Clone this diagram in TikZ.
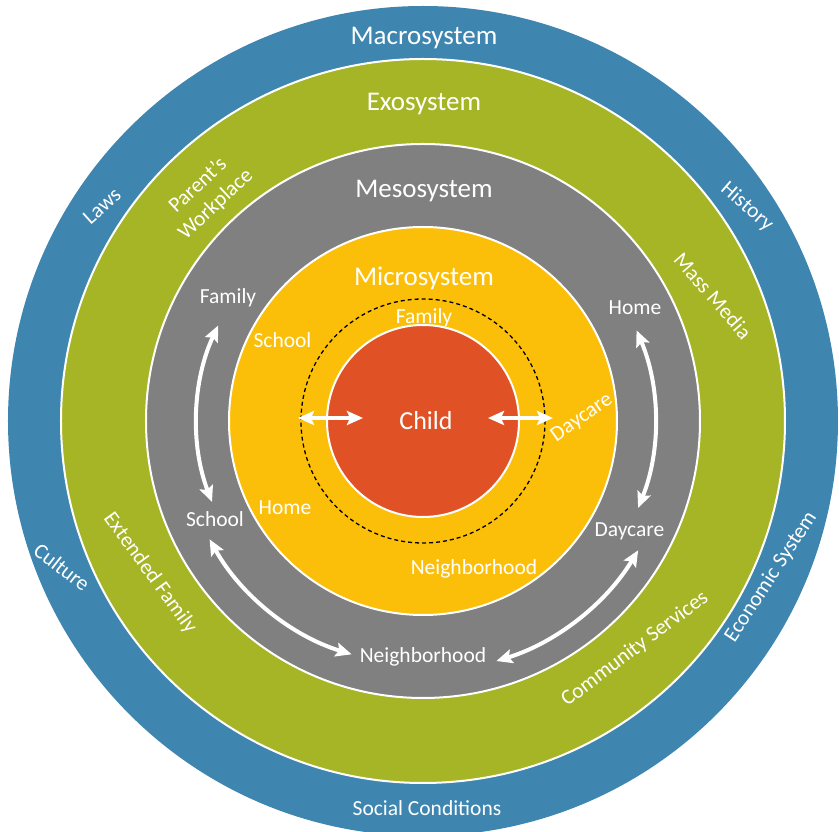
\documentclass[tikz,border=0pt]{standalone}
\usepackage{fontspec}
\setmainfont{Carlito}
\usetikzlibrary{arrows.meta}
\definecolor{macroblue}{RGB}{62,134,176}
\definecolor{exogreen}{RGB}{165,181,38}
\definecolor{mesogray}{RGB}{128,128,128}
\definecolor{microyellow}{RGB}{252,191,9}
\definecolor{childred}{RGB}{224,82,38}
\begin{document}
\begin{tikzpicture}[x=1pt,y=1pt,
  ring/.style={draw=white, line width=2pt},
  syslabel/.style={text=white, font=\fontsize{27}{30}\selectfont, inner sep=0pt},
  lab/.style={text=white, font=\fontsize{21.5}{26}\selectfont, inner sep=0pt, align=center},
  dblarrow/.style={draw=white, line width=4pt,
    {Stealth[length=16pt,width=14pt,inset=3pt]}-{Stealth[length=16pt,width=14pt,inset=3pt]}}
]
\useasboundingbox (-423,-411) rectangle (416,421);
\coordinate (ctr) at (0,0);
% rings
\path[fill=macroblue] (ctr) circle[radius=415];
\path[ring, fill=exogreen] (ctr) circle[radius=362];
\path[ring, fill=mesogray] (ctr) circle[radius=277];
\path[ring, fill=microyellow] (ctr) circle[radius=194];
\draw[black, line width=1.3pt, dash pattern=on 4pt off 3pt] (ctr) circle[radius=122];
\path[ring, fill=childred] (ctr) circle[radius=96];

% system labels
\node[syslabel] (macro) at (1,382.5) {Macrosystem};
\node[syslabel] (exo) at (1,317) {Exosystem};
\node[syslabel] (meso) at (1,229.5) {Mesosystem};
\node[syslabel] (micro) at (1,142.5) {Microsystem};
\node[syslabel, font=\fontsize{26}{30}\selectfont] (child) at (3,0) {Child};

% macrosystem ring
\node[lab, rotate=42] (laws) at (-321,215) {Laws};
\node[lab, rotate=-41] (history) at (324,214) {History};
\node[lab, rotate=-38] (culture) at (-361,-146) {Culture};
\node[lab, rotate=57] (econ) at (348,-156) {Economic System};
\node[lab] (social) at (4,-387) {Social Conditions};

% exosystem ring
\node[lab, rotate=43] (parent) at (-216,226) {Parent’s\\Workplace};
\node[lab, rotate=-49] (media) at (290,125) {Mass Media};
\node[lab, rotate=-54] (extfam) at (-273,-152) {Extended Family};
\node[lab, rotate=37] (commserv) at (212,-228) {Community Services};

% mesosystem ring
\node[lab] (mfamily) at (-195,123) {Family};
\node[lab] (mhome) at (212,113) {Home};
\node[lab] (mschool) at (-208,-98) {School};
\node[lab] (mdaycare) at (206.5,-110.5) {Daycare};
\node[lab] (mneigh) at (0,-236) {Neighborhood};

% microsystem ring
\node[lab] (yschool) at (-140.5,80.5) {School};
\node[lab] (yhome) at (-138,-87) {Home};
\node[lab] (yfamily) at (1,103.5) {Family};
\node[lab, rotate=35] (ydaycare) at (159,3) {Daycare};
\node[lab] (yneigh) at (51,-148) {Neighborhood};

% child <-> microsystem arrows
\coordinate (la) at (-125,3);
\coordinate (lb) at (-60,3);
\coordinate (ra) at (65,3);
\coordinate (rb) at (130,3);
\draw[dblarrow] (la) -- (lb);
\draw[dblarrow] (ra) -- (rb);

% mesosystem arcs
\coordinate (famtop) at (155:226);
\coordinate (homtop) at (23:232);
\coordinate (schbot) at (209:244);
\coordinate (neighr) at (-73:251);
\draw[dblarrow] (famtop) arc[start angle=155, end angle=201, radius=226];
\draw[dblarrow] (homtop) arc[start angle=23, end angle=-22, radius=232];
\draw[dblarrow] (schbot) arc[start angle=209, end angle=253, radius=244];
\draw[dblarrow] (neighr) arc[start angle=-73, end angle=-31, radius=251];
\end{tikzpicture}
\end{document}
